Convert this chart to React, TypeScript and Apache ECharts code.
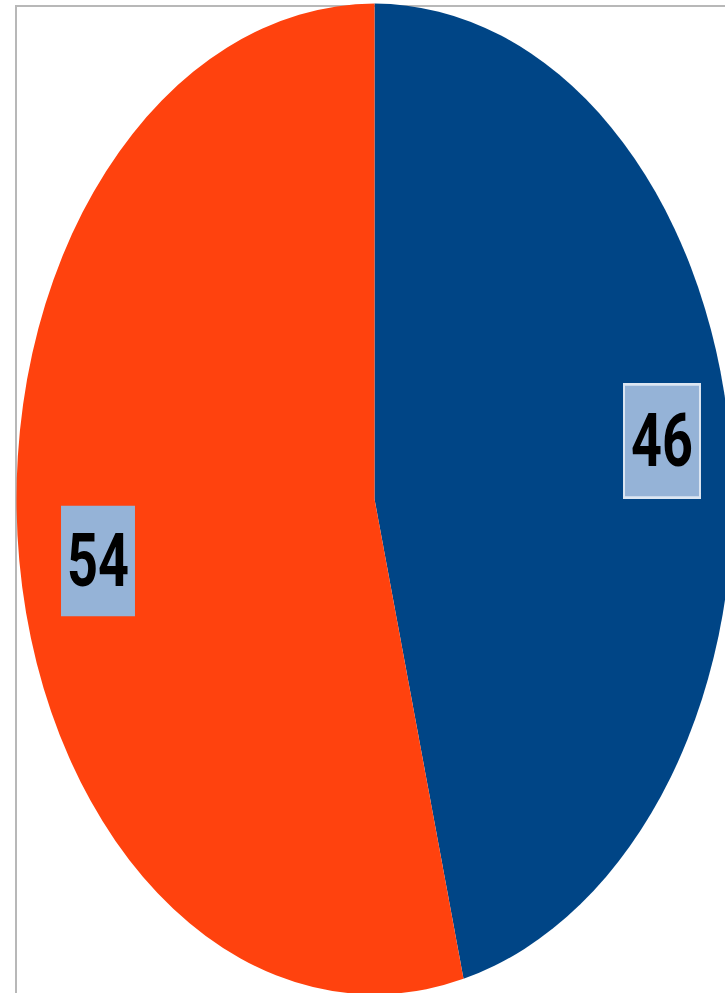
import React, { useEffect, useRef } from "react";
import * as echarts from "echarts";

const categories = ["A", "B"];
const values = [46, 54];
const colors = ["#004586", "#FF420E"];

const SCALE_Y = 494 / 357;
const INNER_H = 718;

export default function App() {
  const ref = useRef<HTMLDivElement>(null);
  useEffect(() => {
    if (!ref.current) return;
    const chart = echarts.init(ref.current, undefined, { renderer: "svg" });
    const labelPos = [
      { x: 662, y: 441 / SCALE_Y },
      { x: 98, y: 561 / SCALE_Y },
    ];
    chart.setOption({
      animation: false,
      backgroundColor: "transparent",
      series: [
        {
          type: "pie",
          center: [374.5, 499 / SCALE_Y],
          radius: [0, 358],
          startAngle: 90,
          clockwise: true,
          silent: true,
          itemStyle: { borderWidth: 0 },
          label: {
            show: true,
            position: "inside",
            formatter: "{c}",
            fontFamily: "Roboto",
            fontWeight: "bold",
            fontSize: 54,
            lineHeight: 54,
            color: "#000",
            backgroundColor: "#95B3D7",
            padding: [13, 6, 13, 6],
            align: "center",
            verticalAlign: "middle",
          },
          labelLine: { show: false },
          labelLayout: (params: any) => ({
            x: labelPos[params.dataIndex].x,
            y: labelPos[params.dataIndex].y,
            align: "center",
            verticalAlign: "middle",
          }),
          data: categories.map((c, i) => ({
            name: c,
            value: values[i],
            itemStyle: { color: colors[i] },
            label:
              i === 0
                ? { borderColor: "#DCE6F2", borderWidth: 2 }
                : {},
          })),
        },
      ],
    });
    return () => chart.dispose();
  }, []);
  return (
    <div
      style={{
        position: "fixed",
        left: 0,
        top: 0,
        width: 725,
        height: 993,
        overflow: "hidden",
        background: "#fff",
      }}
    >
      <div
        style={{
          position: "absolute",
          left: 15,
          top: 5,
          width: 900,
          height: 1200,
          borderLeft: "2px solid #B8B8B8",
          borderTop: "2px solid #B8B8B8",
        }}
      />
      <div
        ref={ref}
        style={{
          position: "absolute",
          left: 0,
          top: 0,
          width: 725,
          height: INNER_H,
          transform: `scaleY(${SCALE_Y})`,
          transformOrigin: "0 0",
        }}
      />
    </div>
  );
}
